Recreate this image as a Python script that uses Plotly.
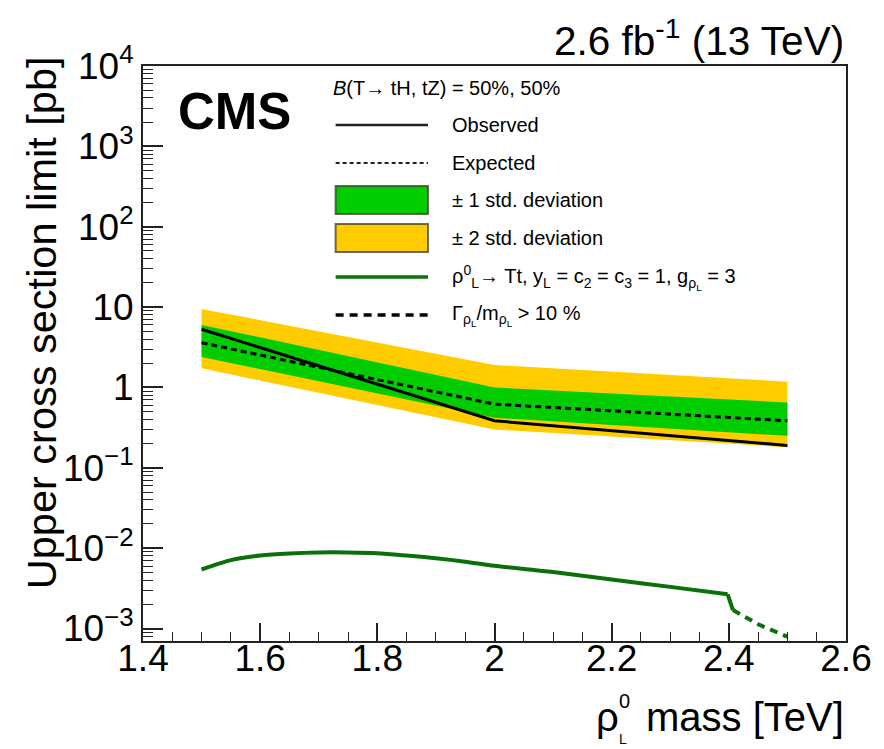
import plotly.graph_objects as go

# ---- data -------------------------------------------------------------
mass = [1.5, 2.0, 2.5]                      # rho0_L mass [TeV]
observed = [5.3, 0.385, 0.19]               # pb
expected = [3.6, 0.62, 0.385]
band1_up = [6.0, 1.0, 0.65]
band1_dn = [2.4, 0.42, 0.25]
band2_up = [9.5, 1.9, 1.18]
band2_dn = [1.73, 0.30, 0.18]

theory_mass = [1.50, 1.55, 1.60, 1.65, 1.70, 1.75, 1.80, 1.85, 1.90, 1.95,
               2.00, 2.10, 2.20, 2.30, 2.398]
theory_xsec = [0.00543, 0.0071, 0.0081, 0.0086, 0.00885, 0.00885, 0.00865,
               0.0081, 0.0075, 0.0068, 0.00605, 0.00505, 0.00407, 0.0033,
               0.00267]
drop_mass = [2.398, 2.407]                  # step at the width threshold
drop_xsec = [0.00267, 0.0017]
wide_mass = [2.407, 2.45, 2.5]              # Gamma/m > 10 %
wide_xsec = [0.0017, 0.00113, 0.00079]

y_tickvals = [1e-3, 1e-2, 1e-1, 1, 10, 1e2, 1e3, 1e4]
y_ticktext = ["10<sup>−3</sup>", "10<sup>−2</sup>", "10<sup>−1</sup>", "1", "10",
              "10<sup>2</sup>", "10<sup>3</sup>", "10<sup>4</sup>"]

GREEN = "#00CC00"
YELLOW = "#FFCC00"
THEORY = "#0A700A"
FONT = "Liberation Sans, Arial, Helvetica, sans-serif"

# ---- frame geometry (pixels) -----------------------------------------
W, H = 884, 749
L, R, T, B = 143, 851, 66, 641


def px(x):
    return (x - L) / (R - L)


def py(y):
    return (B - y) / (B - T)


fig = go.Figure()

# +-2 sigma band
fig.add_trace(go.Scatter(
    x=mass + mass[::-1], y=band2_up + band2_dn[::-1],
    fill="toself", fillcolor=YELLOW, line=dict(width=0), mode="lines",
    hoverinfo="skip", showlegend=False))
# +-1 sigma band
fig.add_trace(go.Scatter(
    x=mass + mass[::-1], y=band1_up + band1_dn[::-1],
    fill="toself", fillcolor=GREEN, line=dict(width=0), mode="lines",
    hoverinfo="skip", showlegend=False))
# expected
fig.add_trace(go.Scatter(
    x=mass, y=expected, mode="lines",
    line=dict(color="black", width=3, dash="6px,4px"), showlegend=False))
# observed
fig.add_trace(go.Scatter(
    x=mass, y=observed, mode="lines",
    line=dict(color="black", width=3), showlegend=False))
# theory
fig.add_trace(go.Scatter(
    x=theory_mass, y=theory_xsec, mode="lines",
    line=dict(color=THEORY, width=4, shape="spline", smoothing=0.8),
    showlegend=False))
fig.add_trace(go.Scatter(
    x=drop_mass, y=drop_xsec, mode="lines",
    line=dict(color=THEORY, width=4), showlegend=False))
fig.add_trace(go.Scatter(
    x=wide_mass, y=wide_xsec, mode="lines",
    line=dict(color=THEORY, width=4, dash="8px,6px"), showlegend=False))

minor_y = [k * 10.0 ** d for d in range(-4, 4) for k in range(2, 10)]
minor_y = [v for v in minor_y if 7e-4 <= v <= 1e4]

fig.update_xaxes(
    range=[1.4, 2.6], dtick=0.2, tick0=1.4,
    ticks="inside", ticklen=18, tickwidth=1.5, tickcolor="#222",
    ticklabelstandoff=-16,
    minor=dict(dtick=0.05, tick0=1.4, ticks="inside", ticklen=9,
               tickwidth=1.2, tickcolor="#222", showgrid=False),
    showline=True, linewidth=2, linecolor="#222", mirror=True,
    showgrid=False, zeroline=False,
    tickfont=dict(family=FONT, size=37, color="black"))
fig.update_yaxes(
    type="log", range=[-3.155, 4],
    tickmode="array", tickvals=y_tickvals, ticktext=y_ticktext,
    ticks="inside", ticklen=20, tickwidth=1.5, tickcolor="#222",
    minor=dict(tickmode="array", tickvals=minor_y, ticks="inside",
               ticklen=10, tickwidth=1.2, tickcolor="#222", showgrid=False),
    showline=True, linewidth=2, linecolor="#222", mirror=True,
    showgrid=False, zeroline=False,
    tickfont=dict(family=FONT, size=37, color="black"))

ann = []
shapes = []


def text(x, y, s, size, xanchor="left", yanchor="middle", angle=0):
    ann.append(dict(x=px(x), y=py(y), xref="paper", yref="paper", text=s,
                    showarrow=False, xanchor=xanchor, yanchor=yanchor,
                    textangle=angle,
                    font=dict(family=FONT, size=size, color="black")))


# titles
text(851, 717, "mass [TeV]", 40, xanchor="right")
text(624, 717, "ρ", 40, xanchor="right")
text(620, 701, "0", 20)
text(620, 739, "L", 14)
text(41, 54, "Upper cross section limit [pb]", 41.5, xanchor="center",
     yanchor="top", angle=-90)
text(176, 111, "<b>CMS</b>", 51)
text(851, 38, "2.6 fb<sup>-1</sup> (13 TeV)", 40.5, xanchor="right")

# legend
text(332, 88, "<i>B</i>(T→ tH, tZ) = 50%, 50%", 20)
rows = [125, 163, 200, 238, 277, 315]
labels = ["Observed", "Expected", "± 1 std. deviation", "± 2 std. deviation",
          "ρ<sup>0</sup><sub>L</sub>→ Tt, y<sub>L</sub> = c<sub>2</sub> = "
          "c<sub>3</sub> = 1, g<sub>ρ<sub>L</sub></sub> = 3",
          "Γ<sub>ρ<sub>L</sub></sub>/m<sub>ρ<sub>L</sub></sub> > 10 %"]
for yy, lab in zip(rows, labels):
    text(452, yy, lab, 20)

x0, x1 = px(337), px(430)


def hline(y, color, width, dash="solid"):
    shapes.append(dict(type="line", xref="paper", yref="paper",
                       x0=x0, x1=x1, y0=py(y), y1=py(y),
                       line=dict(color=color, width=width, dash=dash)))


hline(rows[0], "#222", 2.5)
hline(rows[1], "#222", 2, "4px,3px")
for (ya, yb), col in [((186, 214), GREEN), ((224, 252), YELLOW)]:
    shapes.append(dict(type="rect", xref="paper", yref="paper",
                       x0=x0, x1=x1, y0=py(yb), y1=py(ya), fillcolor=col,
                       line=dict(color="rgba(60,60,40,0.75)", width=2)))
hline(rows[4], THEORY, 3.5)
hline(rows[5], "black", 3.5, "8px,6px")

fig.update_layout(
    width=W, height=H,
    margin=dict(l=L, r=W - R, t=T, b=H - B),
    paper_bgcolor="white", plot_bgcolor="white",
    annotations=ann, shapes=shapes,
    showlegend=False)

fig.write_html("out.html")
